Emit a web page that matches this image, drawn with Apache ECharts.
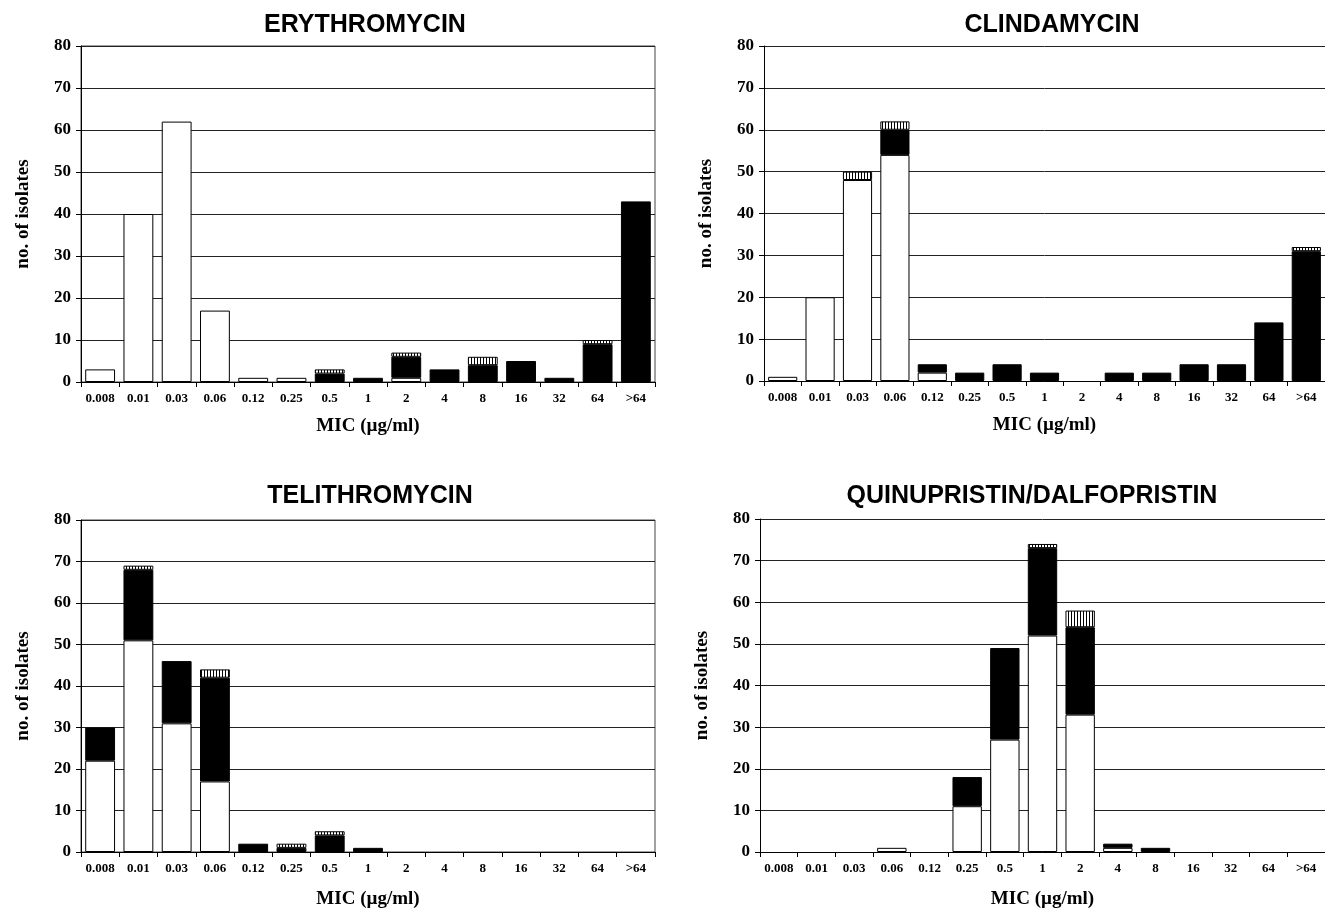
<!DOCTYPE html>
<html>
<head>
<meta charset="utf-8">
<script src="https://cdn.jsdelivr.net/npm/echarts@6/dist/echarts.min.js"></script>
<style>
html,body{margin:0;padding:0;background:#fff;}
#chart{width:1325px;height:910px;}
</style>
</head>
<body>
<div id="chart"></div>
<script>
// ---- data ----
const categories = ['0.008','0.01','0.03','0.06','0.12','0.25','0.5','1','2','4','8','16','32','64','>64'];
const yTicks = [0,10,20,30,40,50,60,70,80];

const titles = ['ERYTHROMYCIN','CLINDAMYCIN','TELITHROMYCIN','QUINUPRISTIN/DALFOPRISTIN'];

const eryWhite   = [3,40,62,17,1,1,0,0,1,0,0,0,0,0,0];
const eryBlack   = [0,0,0,0,0,0,2,1,5,3,4,5,1,9,43];
const eryHatched = [0,0,0,0,0,0,1,0,1,0,2,0,0,1,0];

const cliWhite   = [1,20,48,54,2,0,0,0,0,0,0,0,0,0,0];
const cliBlack   = [0,0,0,6,2,2,4,2,0,2,2,4,4,14,31];
const cliHatched = [0,0,2,2,0,0,0,0,0,0,0,0,0,0,1];

const telWhite   = [22,51,31,17,0,0,0,0,0,0,0,0,0,0,0];
const telBlack   = [8,17,15,25,2,1,4,1,0,0,0,0,0,0,0];
const telHatched = [0,1,0,2,0,1,1,0,0,0,0,0,0,0,0];

const qdWhite    = [0,0,0,1,0,11,27,52,33,1,0,0,0,0,0];
const qdBlack    = [0,0,0,0,0,7,22,21,21,1,1,0,0,0,0];
const qdHatched  = [0,0,0,0,0,0,0,1,4,0,0,0,0,0,0];

const panels = [
  {white: eryWhite, black: eryBlack, hatched: eryHatched},
  {white: cliWhite, black: cliBlack, hatched: cliHatched},
  {white: telWhite, black: telBlack, hatched: telHatched},
  {white: qdWhite,  black: qdBlack,  hatched: qdHatched}
];

// ---- layout / style ----
const grids = [
  {left: 81,  top: 46,  width: 574, height: 336},
  {left: 764, top: 46,  width: 568, height: 335},
  {left: 81,  top: 520, width: 574, height: 337},
  {left: 760, top: 519, width: 570, height: 338}
];
const titlePos = [
  {x: 360, y: 8}, {x: 1047, y: 8}, {x: 365, y: 479}, {x: 1027, y: 479}
];
const micGap = [35, 35, 38, 38];

// vertical stripe pattern for the hatched segment
const pat = document.createElement('canvas');
pat.width = 3; pat.height = 4;
const pctx = pat.getContext('2d');
pctx.fillStyle = '#fff'; pctx.fillRect(0,0,3,4);
pctx.fillStyle = '#000'; pctx.fillRect(0,0,1,4);

const serif = '"Liberation Serif", "Times New Roman", serif';

const option = {
  animation: false,
  backgroundColor: '#fff',
  title: titles.map((t,i) => ({
    text: t, left: titlePos[i].x, top: titlePos[i].y, textAlign: 'center',
    textStyle: {fontFamily: '"Liberation Sans", Arial, sans-serif', fontWeight: 'bold', fontSize: 25, color: '#000'}
  })),
  grid: grids.map((g,i) => Object.assign({show: i === 0 || i === 2, borderColor: '#444', borderWidth: 1, backgroundColor: 'transparent'}, g)),
  xAxis: grids.map((g,i) => ({
    type: 'category', gridIndex: i, data: categories,
    name: 'MIC (µg/ml)', nameLocation: 'middle', nameGap: micGap[i],
    nameTextStyle: {fontFamily: serif, fontWeight: 'bold', fontSize: 19, color: '#000'},
    axisLine: {show: true, lineStyle: {color: '#000', width: 1}},
    axisTick: {show: true, length: 5, lineStyle: {color: '#000'}},
    axisLabel: {interval: 0, fontFamily: serif, fontWeight: 'bold', fontSize: 13, color: '#000', margin: 10},
    splitLine: {show: false}
  })),
  yAxis: grids.map((g,i) => ({
    type: 'value', gridIndex: i, min: yTicks[0], max: yTicks[yTicks.length-1], interval: yTicks[1]-yTicks[0],
    name: 'no. of isolates', nameLocation: 'middle', nameRotate: 90, nameGap: 48,
    nameTextStyle: {fontFamily: serif, fontWeight: 'bold', fontSize: 19, color: '#000'},
    axisLine: {show: true, lineStyle: {color: '#000', width: 1}},
    axisTick: {show: true, length: 5, lineStyle: {color: '#000'}},
    axisLabel: {fontFamily: serif, fontWeight: 'bold', fontSize: 17, color: '#000', margin: 10},
    splitLine: {show: true, lineStyle: {color: '#222', width: 1}}
  })),
  series: []
};

panels.forEach((p,i) => {
  const common = {type: 'bar', xAxisIndex: i, yAxisIndex: i, stack: 's' + i, barCategoryGap: '22%'};
  option.series.push(Object.assign({}, common, {name: 'white', data: p.white.map(v => v || null),
    itemStyle: {color: '#fff', borderColor: '#000', borderWidth: 1}}));
  option.series.push(Object.assign({}, common, {name: 'black', data: p.black.map(v => v || null),
    itemStyle: {color: '#000', borderColor: '#000', borderWidth: 1}}));
  option.series.push(Object.assign({}, common, {name: 'hatched', data: p.hatched.map(v => v || null),
    itemStyle: {color: {image: pat, repeat: 'repeat'}, borderColor: '#000', borderWidth: 1}}));
});

const chart = echarts.init(document.getElementById('chart'), null, {renderer: 'canvas'});
chart.setOption(option);
</script>
</body>
</html>
